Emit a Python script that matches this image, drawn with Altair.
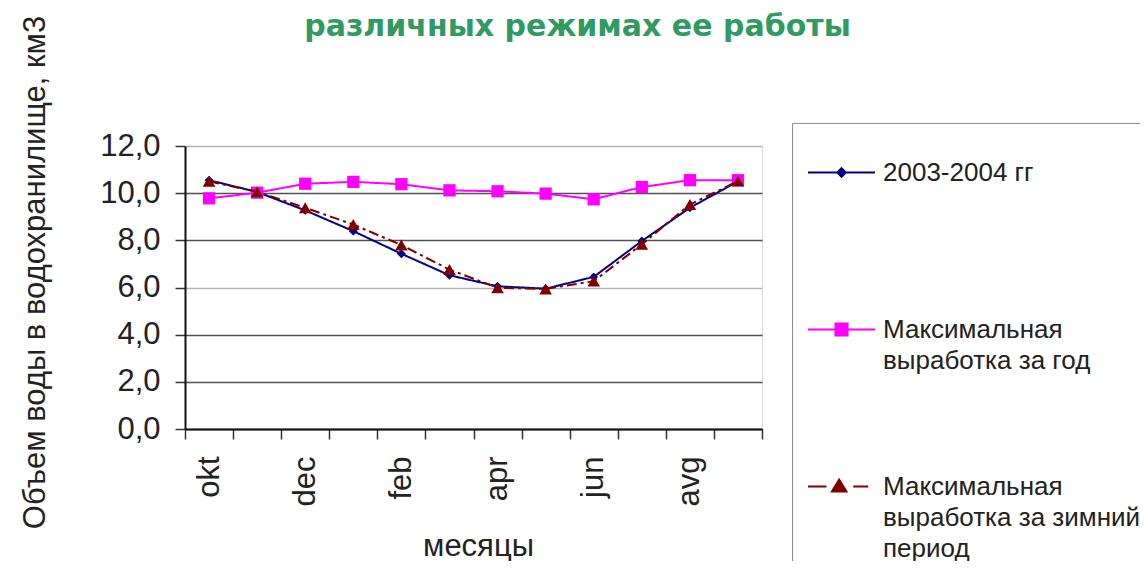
import json
import altair as alt
import pandas as pd

months = ["okt", "nov", "dec", "jan", "feb", "mar", "apr", "may", "jun", "jul", "avg", "sep"]
shown_months = ["okt", "dec", "feb", "apr", "jun", "avg"]
series_names = [
    "2003-2004 гг",
    "Максимальная выработка за год",
    "Максимальная выработка за зимний период",
]
legend_lines = [
    ["2003-2004 гг", "", ""],
    ["Максимальная", "выработка за год", ""],
    ["Максимальная", "выработка за зимний", "период"],
]
vol_2003 = [10.55, 10.05, 9.27, 8.39, 7.43, 6.52, 6.05, 5.95, 6.45, 7.97, 9.38, 10.5]
vol_year = [9.78, 10.02, 10.40, 10.48, 10.38, 10.12, 10.08, 9.98, 9.74, 10.26, 10.55, 10.55]
vol_winter = [10.5, 10.06, 9.38, 8.67, 7.80, 6.76, 5.99, 5.94, 6.27, 7.83, 9.52, 10.51]
y_ticks = [0, 2, 4, 6, 8, 10, 12]

colors = ["#000080", "#FF00FF", "#800000"]
point_shapes = ["diamond", "square", "triangle-up"]
point_sizes = [80, 150, 160]
dashes = [[1, 0], [1, 0], [10, 4, 3, 4]]

rows = []
for name, vals in zip(series_names, [vol_2003, vol_year, vol_winter]):
    for m, v in zip(months, vals):
        rows.append({"month": m, "series": name, "value": v})
df = pd.DataFrame(rows)

FONT = "Liberation Sans"


def rect(x0, x1, h=0.03):
    return f"M{x0},{-h}L{x1},{-h}L{x1},{h}L{x0},{h}Z"


# legend symbol paths: line segment + marker
legend_paths = [
    rect(-1, 1) + "M0,-0.17L0.17,0L0,0.17L-0.17,0Z",
    rect(-1, 1) + "M-0.21,-0.21L0.21,-0.21L0.21,0.21L-0.21,0.21Z",
    rect(-1, -0.45) + rect(0.35, 0.8) + "M-0.07,-0.26L0.2,0.18L-0.34,0.18Z",
]

label_expr = ""
for name, lines in zip(series_names[:-1], legend_lines[:-1]):
    label_expr += f"datum.label == {json.dumps(name, ensure_ascii=False)} ? {json.dumps(lines, ensure_ascii=False)} : "
label_expr += json.dumps(legend_lines[-1], ensure_ascii=False)

x_enc = alt.X(
    "month:N",
    scale=alt.Scale(type="band", domain=months, paddingInner=0, paddingOuter=0),
    axis=alt.Axis(
        title="месяцы",
        titleFont=FONT,
        titleFontSize=31,
        titleFontWeight="normal",
        titleColor="#222",
        titleX=293,
        titleY=117,
        titleBaseline="middle",
        titleAlign="center",
        labelAngle=-90,
        labelFont=FONT,
        labelFontSize=31,
        labelColor="#222",
        labelPadding=17,
        labelOverlap=False,
        labelExpr="indexof(" + json.dumps(shown_months) + ", datum.value) >= 0 ? datum.value : ''",
        tickBand="extent",
        tickSize=10,
        tickColor="#333",
        tickWidth=1.5,
        domainColor="#111",
        domainWidth=2,
        grid=False,
    ),
)
y_enc = alt.Y(
    "value:Q",
    scale=alt.Scale(domain=[0, 12], nice=False, zero=True),
    axis=alt.Axis(
        title="Объем воды в водохранилище, км3",
        titleFont=FONT,
        titleFontSize=31,
        titleFontWeight="normal",
        titleColor="#222",
        titleAngle=-90,
        titleX=-150,
        titleY=126,
        titleBaseline="middle",
        titleAlign="center",
        values=y_ticks,
        labelExpr="replace(format(datum.value, '.1f'), '.', ',')",
        labelFont=FONT,
        labelFontSize=31,
        labelColor="#222",
        labelPadding=15,
        tickSize=10,
        tickColor="#333",
        tickWidth=1.5,
        domainColor="#111",
        domainWidth=2,
        grid=True,
        gridColor={
            "condition": {"test": "datum.value == 12 || datum.value == 6", "value": "#b4b4b4"},
            "value": "#505050",
        },
        gridWidth=1.5,
    ),
)

base = alt.Chart(df).encode(x=x_enc, y=y_enc)

layers = []
for i, name in enumerate(series_names):
    sub = base.transform_filter(alt.datum.series == name)
    layers.append(
        sub.mark_line(color=colors[i], strokeWidth=2, strokeDash=dashes[i])
    )
    layers.append(
        sub.mark_point(shape=point_shapes[i], filled=True, size=point_sizes[i],
                       color=colors[i], opacity=1)
    )

leg = alt.Legend(
    title=None,
    orient="none",
    legendX=607,
    legendY=-23,
    strokeColor="#8c8c8c",
    fillColor="white",
    padding=16,
    symbolSize=4489,
    symbolStrokeWidth=0,
    symbolOpacity=1,
    labelFont=FONT,
    labelFontSize=26,
    labelColor="#222",
    labelLimit=600,
    labelOffset=8,
    labelBaseline="middle",
    rowPadding=48,
    labelExpr=label_expr,
)

proxy = base.transform_filter("false").mark_point(filled=True, opacity=1).encode(
    color=alt.Color("series:N", scale=alt.Scale(domain=series_names, range=colors), legend=leg),
    shape=alt.Shape("series:N", scale=alt.Scale(domain=series_names, range=legend_paths), legend=leg),
)

chart = (
    alt.layer(*layers, proxy)
    .properties(
        width=577,
        height=283,
        autosize=alt.AutoSizeParams(type="none"),
        padding={"left": 177, "top": 138, "right": 378, "bottom": 132},
        title=alt.TitleParams(
            "различных режимах ее работы",
            font="DejaVu Sans",
            fontSize=30,
            fontWeight="bold",
            color="#2f9a63",
            anchor="middle",
            frame="group",
            dx=104,
            offset=-51,
            baseline="alphabetic",
        ),
    )
    .configure_view(stroke="#999999", strokeWidth=1.5)
    .configure(style={"guide-label": {"lineHeight": 31}})
)

chart.save("out.html", embed_options={"renderer": "svg", "actions": False})
